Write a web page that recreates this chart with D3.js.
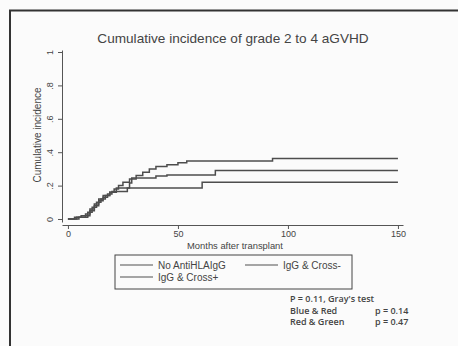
<!DOCTYPE html>
<html lang="en">
<head>
    <meta charset="UTF-8">
    <title>Cumulative incidence</title>
    <script src="https://cdn.jsdelivr.net/npm/d3@7"></script>
    <style>
        body { margin: 0; background: #fbfbfb; }
        text { font-family: "Liberation Sans", Arial, sans-serif; fill: #444; }
    </style>
</head>
<body>
<script>
    // step curves: [month, cumulative incidence]
    var noAntiHLA = [[0, 0], [3, 0.01], [6, 0.02], [9, 0.04], [11, 0.07], [13, 0.1], [15, 0.12], [17, 0.14],
        [19, 0.16], [21, 0.18], [23, 0.2], [25, 0.22], [28, 0.24], [31, 0.26], [34, 0.28], [37, 0.3],
        [40, 0.315], [45, 0.325], [50, 0.337], [54, 0.347], [93, 0.363], [150, 0.363]]
    var igGCrossNeg = [[0, 0], [4, 0.01], [8, 0.03], [10, 0.06], [12, 0.09], [14, 0.12], [16, 0.14],
        [19, 0.16], [22, 0.185], [28, 0.215], [29, 0.245], [40, 0.257], [45, 0.263], [67, 0.29], [150, 0.29]]
    var igGCrossPos = [[0, 0], [5, 0.01], [9, 0.02], [10, 0.05], [12, 0.08], [14, 0.11], [16, 0.13],
        [18, 0.15], [20, 0.165], [27, 0.186], [61, 0.22], [150, 0.22]]
    var series = [noAntiHLA, igGCrossNeg, igGCrossPos]
    var legendLabels = ['No AntiHLAIgG', 'IgG & Cross-', 'IgG & Cross+']
    var xTicks = [0, 50, 100, 150]
    var yTicks = [0, 0.2, 0.4, 0.6, 0.8, 1]
    var yTickLabels = ['0', '.2', '.4', '.6', '.8', '1']
    var notes = ["P = 0.11, Gray's test", 'Blue & Red', 'Red & Green']
    var pValues = ['', 'p = 0.14', 'p = 0.47']

    var width = 458
        height = 346
        svg = d3.select('body').append('svg')
            .attr('width', width)
            .attr('height', height)

    // photo frame
    svg.append('path')
        .attr('d', 'M10,346 V10.5 H458')
        .attr('fill', 'none')
        .attr('stroke', '#333')
        .attr('stroke-width', 2)

    var x = d3.scaleLinear().domain([-2.7, 152.3]).range([62, 403])
        y = d3.scaleLinear().domain([-0.018, 1.012]).range([222, 50])

    svg.append('text')
        .attr('x', 233).attr('y', 43)
        .attr('text-anchor', 'middle')
        .style('font-size', '13.6px')
        .text('Cumulative incidence of grade 2 to 4 aGVHD')

    var xAxis = svg.append('g')
        .attr('transform', 'translate(0,' + 225 + ')')
        .call(d3.axisBottom(x).tickValues(xTicks).tickSize(4).tickSizeOuter(0))
    var yAxis = svg.append('g')
        .attr('transform', 'translate(' + 62 + ',0)')
        .call(d3.axisLeft(y).tickValues(yTicks).tickSize(4).tickSizeOuter(0)
            .tickFormat((d, i) => yTickLabels[i]))

    ;[xAxis, yAxis].forEach(g => {
        g.selectAll('path, line').attr('stroke', '#555')
        g.selectAll('text').style('font-size', '9px').style('font-family', '"Liberation Sans", Arial, sans-serif').attr('fill', '#444')
    })
    xAxis.selectAll('text').attr('y', 6).attr('dy', '0.71em')
    yAxis.selectAll('.tick text')
        .attr('x', 0).attr('dy', 0)
        .attr('text-anchor', 'middle')
        .attr('transform', 'translate(-9,0) rotate(-90)')

    svg.append('text')
        .attr('x', 235).attr('y', 249)
        .attr('text-anchor', 'middle')
        .style('font-size', '9.4px')
        .text('Months after transplant')
    svg.append('text')
        .attr('transform', 'translate(41,' + 135 + ') rotate(-90)')
        .attr('text-anchor', 'middle')
        .style('font-size', '10px')
        .text('Cumulative incidence')

    var line = d3.line()
        .curve(d3.curveStepAfter)
        .x(d => x(d[0]))
        .y(d => y(d[1]))
    svg.selectAll('.curve')
        .data(series)
        .enter()
        .append('path')
        .attr('class', 'curve')
        .attr('d', line)
        .attr('fill', 'none')
        .attr('stroke', '#4d4d4d')
        .attr('stroke-width', 1.5)

    // legend
    svg.append('rect')
        .attr('x', 115).attr('y', 255)
        .attr('width', 237).attr('height', 34)
        .attr('fill', 'none')
        .attr('stroke', '#444')
        .attr('stroke-width', 1)
    var legendPos = [[120, 265], [245, 265], [120, 277]]
    legendLabels.forEach(function (label, i) {
        var p = legendPos[i]
        svg.append('line')
            .attr('x1', p[0]).attr('x2', p[0] + 33)
            .attr('y1', p[1]).attr('y2', p[1])
            .attr('stroke', '#505050')
            .attr('stroke-width', 1.2)
        svg.append('text')
            .attr('x', p[0] + 38).attr('y', p[1] + 3.5)
            .style('font-size', '10px')
            .text(label)
    })

    // test results
    notes.forEach(function (t, i) {
        svg.append('text')
            .attr('x', 290).attr('y', 302 + i * 11.5)
            .style('font-family', '"Open Sans", sans-serif')
            .style('font-size', '9px')
            .style('font-weight', 600)
            .attr('fill', '#333')
            .text(t)
        svg.append('text')
            .attr('x', 375).attr('y', 302 + i * 11.5)
            .style('font-family', '"Open Sans", sans-serif')
            .style('font-size', '9px')
            .style('font-weight', 600)
            .attr('fill', '#333')
            .text(pValues[i])
    })
</script>
</body>
</html>
